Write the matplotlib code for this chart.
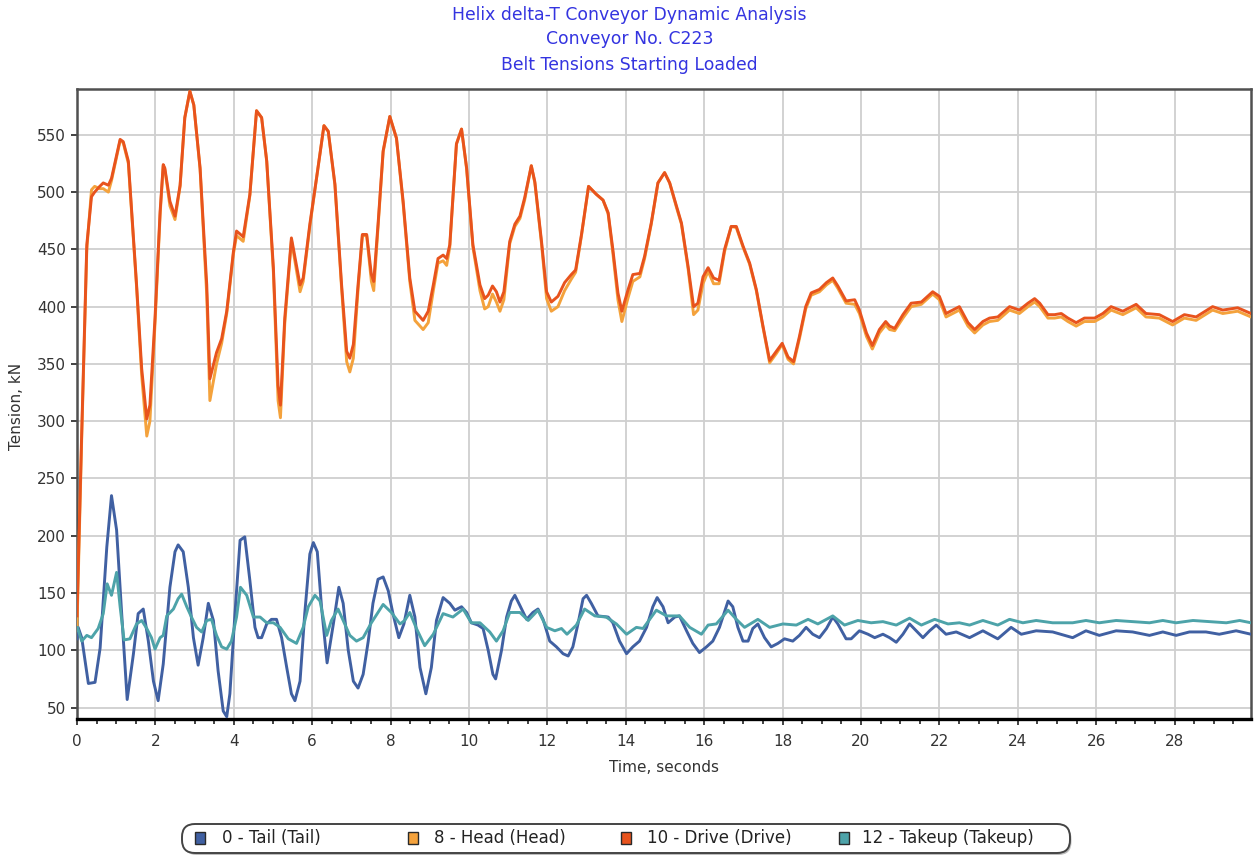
import matplotlib
matplotlib.use("Agg")
import matplotlib.pyplot as plt
from matplotlib.patches import FancyBboxPatch, Rectangle
from matplotlib.ticker import MultipleLocator

plt.rcParams['font.family'] = ['DejaVu Sans']

title_lines = ["Helix delta-T Conveyor Dynamic Analysis",
               "Conveyor No. C223",
               "Belt Tensions Starting Loaded"]
x_label = "Time, seconds"
y_label = "Tension, kN"
series_names = ["0 - Tail (Tail)", "8 - Head (Head)", "10 - Drive (Drive)", "12 - Takeup (Takeup)"]
series_colors = ["#4060a2", "#f4a23c", "#e8531d", "#4da3a9"]

# Drive and Head share a time base
t_dh = [0.00, 0.12, 0.25, 0.37, 0.45, 0.58, 0.67, 0.80, 0.88, 1.10, 1.18, 1.31, 1.52, 1.65, 1.78, 1.86,
        1.99, 2.12, 2.20, 2.24, 2.37, 2.50, 2.63, 2.75, 2.88, 2.98, 3.14, 3.31, 3.39, 3.56, 3.69, 3.82,
        3.99, 4.07, 4.24, 4.41, 4.58, 4.71, 4.84, 5.01, 5.13, 5.19, 5.30, 5.47, 5.69, 5.77, 5.94, 6.11,
        6.30, 6.41, 6.58, 6.75, 6.88, 6.96, 7.05, 7.17, 7.28, 7.39, 7.51, 7.57, 7.68, 7.81, 7.98, 8.15,
        8.32, 8.49, 8.62, 8.83, 8.96, 9.09, 9.21, 9.34, 9.43, 9.51, 9.68, 9.81, 9.94, 10.10, 10.28, 10.40,
        10.49, 10.60, 10.70, 10.79, 10.89, 11.04, 11.17, 11.30, 11.42, 11.59, 11.68, 11.85, 11.98, 12.10,
        12.27, 12.44, 12.61, 12.72, 12.87, 13.05, 13.25, 13.42, 13.55, 13.67, 13.80, 13.90, 14.06, 14.18,
        14.36, 14.48, 14.65, 14.82, 14.99, 15.12, 15.29, 15.42, 15.59, 15.73, 15.84, 15.97, 16.10, 16.24,
        16.38, 16.52, 16.69, 16.82, 16.99, 17.16, 17.33, 17.50, 17.67, 17.84, 17.99, 18.14, 18.28, 18.43,
        18.59, 18.73, 18.94, 19.12, 19.28, 19.41, 19.62, 19.84, 19.96, 20.14, 20.29, 20.47, 20.63, 20.73,
        20.86, 21.07, 21.28, 21.54, 21.83, 22.00, 22.17, 22.34, 22.51, 22.73, 22.90, 23.11, 23.28, 23.49,
        23.79, 24.04, 24.26, 24.43, 24.56, 24.77, 24.94, 25.11, 25.28, 25.49, 25.70, 25.96, 26.17, 26.38,
        26.68, 27.02, 27.27, 27.61, 27.95, 28.25, 28.55, 28.97, 29.23, 29.61, 29.95]
drive = [130, 290, 454, 496, 500, 505, 508, 506, 512, 546, 544, 527, 419, 346, 302, 314,
         390, 483, 524, 521, 492, 479, 506, 565, 588, 576, 521, 419, 337, 360, 372, 396,
         448, 466, 461, 498, 571, 565, 527, 434, 331, 314, 390, 460, 419, 425, 472, 512,
         558, 553, 507, 419, 361, 355, 367, 419, 463, 463, 428, 422, 472, 536, 566, 547,
         492, 425, 396, 388, 396, 419, 442, 445, 442, 454, 542, 555, 521, 454, 419, 407,
         410, 418, 413, 404, 413, 457, 472, 479, 495, 523, 509, 457, 413, 404,
         409, 421, 428, 432, 463, 505, 498, 493, 482, 450, 412, 396, 415, 428,
         429, 444, 473, 508, 517, 508, 488, 473, 435, 400, 403, 426, 434, 425,
         423, 450, 470, 470, 453, 438, 415, 383, 353, 361, 368, 356, 352, 374,
         400, 412, 415, 421, 425, 418, 405, 406, 397, 377, 366, 380, 387, 383,
         381, 393, 403, 404, 413, 409, 394, 397, 400, 386, 380, 387, 390, 391,
         400, 397, 403, 407, 403, 393, 393, 394, 390, 386, 390, 390, 394, 400,
         396, 402, 394, 393, 387, 393, 391, 400, 397, 399, 394]
head = [120, 285, 450, 502, 505, 503, 503, 500, 510, 545, 543, 525, 417, 340, 287, 300,
        385, 480, 523, 520, 488, 476, 505, 565, 588, 576, 520, 410, 318, 350, 368, 394,
        446, 462, 457, 497, 571, 565, 527, 430, 318, 303, 385, 458, 413, 422, 470, 512,
        558, 553, 506, 416, 352, 343, 355, 415, 462, 462, 422, 414, 470, 535, 566, 547,
        490, 422, 388, 380, 386, 414, 438, 440, 436, 452, 542, 555, 520, 452, 414, 398,
        400, 411, 404, 396, 406, 455, 470, 477, 493, 523, 508, 455, 407, 396,
        400, 414, 424, 430, 462, 505, 498, 493, 481, 447, 406, 387, 408, 422,
        426, 442, 472, 508, 517, 508, 487, 472, 433, 393, 397, 420, 431, 420,
        420, 448, 470, 469, 452, 437, 414, 382, 351, 359, 367, 354, 350, 372,
        398, 410, 413, 419, 423, 416, 403, 402, 394, 374, 363, 377, 384, 380,
        379, 390, 400, 402, 411, 406, 391, 394, 397, 383, 377, 384, 387, 388,
        397, 394, 400, 404, 400, 390, 390, 391, 387, 383, 387, 387, 391, 397,
        393, 399, 391, 390, 384, 390, 388, 397, 394, 396, 391]

t_tail = [0.00, 0.03, 0.12, 0.29, 0.46, 0.59, 0.76, 0.88, 1.01, 1.14, 1.28, 1.44, 1.56, 1.69, 1.82, 1.95,
          2.07, 2.20, 2.37, 2.50, 2.58, 2.71, 2.84, 2.97, 3.09, 3.22, 3.35, 3.48, 3.60, 3.73, 3.82, 3.90,
          4.03, 4.16, 4.28, 4.41, 4.54, 4.62, 4.71, 4.84, 4.96, 5.09, 5.22, 5.35, 5.47, 5.56, 5.69, 5.81,
          5.94, 6.03, 6.13, 6.24, 6.38, 6.54, 6.68, 6.79, 6.92, 7.05, 7.17, 7.30, 7.43, 7.55, 7.68, 7.81,
          7.94, 8.06, 8.21, 8.34, 8.49, 8.62, 8.75, 8.90, 9.04, 9.17, 9.34, 9.51, 9.64, 9.81, 9.94, 10.06,
          10.23, 10.36, 10.49, 10.61, 10.68, 10.83, 10.96, 11.08, 11.17, 11.30, 11.47, 11.63, 11.76, 11.89,
          12.06, 12.23, 12.40, 12.53, 12.65, 12.78, 12.91, 13.00, 13.12, 13.29, 13.55, 13.67, 13.84, 14.02,
          14.18, 14.35, 14.53, 14.69, 14.80, 14.95, 15.08, 15.25, 15.37, 15.55, 15.71, 15.88, 16.06, 16.22,
          16.39, 16.61, 16.73, 16.86, 16.99, 17.12, 17.24, 17.37, 17.54, 17.71, 17.88, 18.05, 18.26, 18.43,
          18.60, 18.77, 18.94, 19.12, 19.28, 19.41, 19.62, 19.75, 19.96, 20.18, 20.35, 20.56, 20.73, 20.90,
          21.07, 21.24, 21.41, 21.58, 21.75, 21.92, 22.17, 22.43, 22.77, 23.11, 23.49, 23.83, 24.09, 24.47,
          24.89, 25.40, 25.74, 26.08, 26.51, 26.93, 27.36, 27.70, 28.04, 28.38, 28.80, 29.14, 29.57, 29.95]
tail = [110, 120, 111, 71, 72, 102, 190, 235, 205, 132, 57, 97, 132, 136, 108, 73,
        56, 88, 155, 186, 192, 186, 155, 111, 87, 111, 141, 126, 82, 47, 42, 62,
        132, 196, 199, 161, 120, 111, 111, 123, 127, 127, 111, 85, 62, 56, 73, 132,
        184, 194, 186, 137, 89, 123, 155, 141, 100, 73, 67, 79, 108, 141, 162, 164,
        152, 132, 111, 123, 148, 129, 85, 62, 85, 126, 146, 141, 135, 138, 133, 124,
        122, 119, 100, 79, 75, 100, 129, 143, 148, 139, 127, 133, 136, 127,
        108, 103, 97, 95, 103, 123, 145, 148, 141, 130, 129, 124, 108, 97,
        103, 108, 120, 138, 146, 138, 124, 129, 130, 117, 106, 98, 103, 108,
        120, 143, 138, 120, 108, 108, 119, 123, 111, 103, 106, 110, 108, 113,
        120, 114, 111, 119, 129, 123, 110, 110, 117, 114, 111, 114, 111, 107,
        114, 123, 117, 111, 117, 122, 114, 116, 111, 117, 110, 120, 114, 117,
        116, 111, 117, 113, 117, 116, 113, 116, 113, 116, 116, 114, 117, 114]

t_takeup = [0.00, 0.01, 0.12, 0.25, 0.37, 0.54, 0.67, 0.77, 0.88, 1.01, 1.10, 1.20, 1.35, 1.52, 1.65, 1.78,
            1.90, 1.99, 2.12, 2.20, 2.29, 2.46, 2.58, 2.67, 2.80, 2.92, 3.05, 3.18, 3.31, 3.43, 3.56, 3.69,
            3.82, 3.94, 4.07, 4.17, 4.33, 4.50, 4.67, 4.84, 5.01, 5.18, 5.39, 5.60, 5.77, 5.90, 6.07, 6.20,
            6.37, 6.49, 6.66, 6.79, 6.96, 7.13, 7.30, 7.51, 7.81, 8.02, 8.24, 8.36, 8.49, 8.66, 8.87, 9.09,
            9.34, 9.59, 9.85, 10.06, 10.28, 10.53, 10.70, 10.87, 11.04, 11.30, 11.51, 11.76, 11.98, 12.19,
            12.36, 12.50, 12.74, 12.95, 13.21, 13.50, 13.76, 14.02, 14.27, 14.44, 14.78, 15.04, 15.37, 15.63,
            15.93, 16.10, 16.31, 16.61, 16.82, 17.03, 17.37, 17.67, 18.01, 18.35, 18.65, 18.90, 19.28, 19.58,
            19.92, 20.26, 20.56, 20.90, 21.24, 21.54, 21.88, 22.22, 22.51, 22.77, 23.11, 23.49, 23.79, 24.13,
            24.47, 24.89, 25.40, 25.74, 26.08, 26.51, 26.93, 27.36, 27.70, 28.04, 28.47, 28.89, 29.32, 29.66,
            29.95]
takeup = [118, 120, 108, 113, 111, 119, 132, 158, 148, 168, 138, 109, 110, 123, 126, 119,
          111, 101, 111, 113, 130, 136, 145, 149, 138, 129, 120, 116, 126, 127, 113, 103,
          101, 108, 129, 155, 148, 129, 129, 124, 124, 120, 110, 106, 120, 138, 148, 143,
          113, 126, 136, 126, 113, 108, 111, 124, 140, 133, 123, 126, 133, 119, 104, 114,
          132, 129, 136, 124, 124, 116, 108, 117, 133, 133, 126, 135, 120, 117,
          119, 114, 122, 136, 130, 129, 123, 114, 120, 119, 135, 130, 130, 120,
          114, 122, 123, 135, 127, 120, 127, 120, 123, 122, 127, 123, 130, 122,
          126, 124, 125, 122, 128, 122, 127, 123, 124, 122, 126, 122, 127, 124,
          126, 124, 124, 126, 124, 126, 125, 124, 126, 124, 126, 125, 124, 126,
          124]

W, H = 1257, 857
fig = plt.figure(figsize=(W / 100, H / 100), dpi=100)
fig.patch.set_facecolor('white')

ax_l, ax_r, ax_t, ax_b = 77, 1251, 89, 719
ax = fig.add_axes([ax_l / W, 1 - ax_b / H, (ax_r - ax_l) / W, (ax_b - ax_t) / H])

lw = 2.1
ax.plot(t_tail, tail, color=series_colors[0], lw=lw, solid_joinstyle='round', zorder=3)
ax.plot(t_dh, head, color=series_colors[1], lw=lw, solid_joinstyle='round', zorder=3)
ax.plot(t_dh, drive, color=series_colors[2], lw=lw, solid_joinstyle='round', zorder=4)
ax.plot(t_takeup, takeup, color=series_colors[3], lw=lw, solid_joinstyle='round', zorder=3)

ax.set_xlim(0, 29.95)
ax.set_ylim(40, 590)
ax.xaxis.set_major_locator(MultipleLocator(2))
ax.xaxis.set_minor_locator(MultipleLocator(0.5))
ax.set_yticks(list(range(50, 551, 50)))
ax.grid(True, which='major', color='#cfcfcf', lw=1.3)
ax.set_axisbelow(True)

for side in ['left', 'top', 'right']:
    ax.spines[side].set_color('#505050')
    ax.spines[side].set_linewidth(1.8)
ax.spines['bottom'].set_color('black')
ax.spines['bottom'].set_linewidth(2.4)

ax.tick_params(axis='both', which='major', direction='out', length=4.5, width=1.2,
               colors='#222222', labelsize=11, labelcolor='#333333')
ax.tick_params(axis='x', which='major', pad=6)
ax.tick_params(axis='y', which='major', pad=3.5)
ax.tick_params(axis='x', which='minor', direction='out', length=3.5, width=1.2, colors='#222222')

ax.set_xlabel(x_label, fontsize=11, color='#333333', va='center')
ax.xaxis.set_label_coords(0.5, -(768 - ax_b) / (ax_b - ax_t))
ax.set_ylabel(y_label, fontsize=11, color='#333333', va='center')
ax.yaxis.set_label_coords(-(ax_l - 17) / (ax_r - ax_l), (ax_b - 406) / (ax_b - ax_t))

title_y = [15, 39, 65]
for line, yy in zip(title_lines, title_y):
    fig.text(629.5 / W, 1 - yy / H, line, ha='center', va='center', fontsize=12.4, color='#3434e0')

# legend (pill box with fixed-width entries)
dpi_tr = fig.dpi_scale_trans
lg_x0, lg_x1, lg_y0, lg_y1 = 182, 1070, 824, 853
shadow = FancyBboxPatch((lg_x0 / 100 + 0.015, (H - lg_y1) / 100 - 0.02), (lg_x1 - lg_x0) / 100,
                        (lg_y1 - lg_y0) / 100, boxstyle="round,pad=0,rounding_size=0.13",
                        transform=dpi_tr, facecolor='#bdbdbd', edgecolor='none', zorder=1)
box = FancyBboxPatch((lg_x0 / 100, (H - lg_y1) / 100), (lg_x1 - lg_x0) / 100, (lg_y1 - lg_y0) / 100,
                     boxstyle="round,pad=0,rounding_size=0.13", transform=dpi_tr,
                     facecolor='white', edgecolor='#444444', lw=1.4, zorder=2)
fig.patches.extend([shadow, box])
marker_x = [200, 413, 626, 844]
text_x = [222, 434, 647, 862]
lg_yc = 838
for name, col, mx, tx in zip(series_names, series_colors, marker_x, text_x):
    r = Rectangle(((mx - 5) / 100, (H - lg_yc - 6) / 100), 0.10, 0.12, transform=dpi_tr,
                  facecolor=col, edgecolor='#2a2a2a', lw=1.0, zorder=3)
    fig.patches.append(r)
    fig.text(tx / W, 1 - lg_yc / H, name, ha='left', va='center', fontsize=12, color='#222222', zorder=4)

fig.savefig('out.png', dpi=100, facecolor='white')
